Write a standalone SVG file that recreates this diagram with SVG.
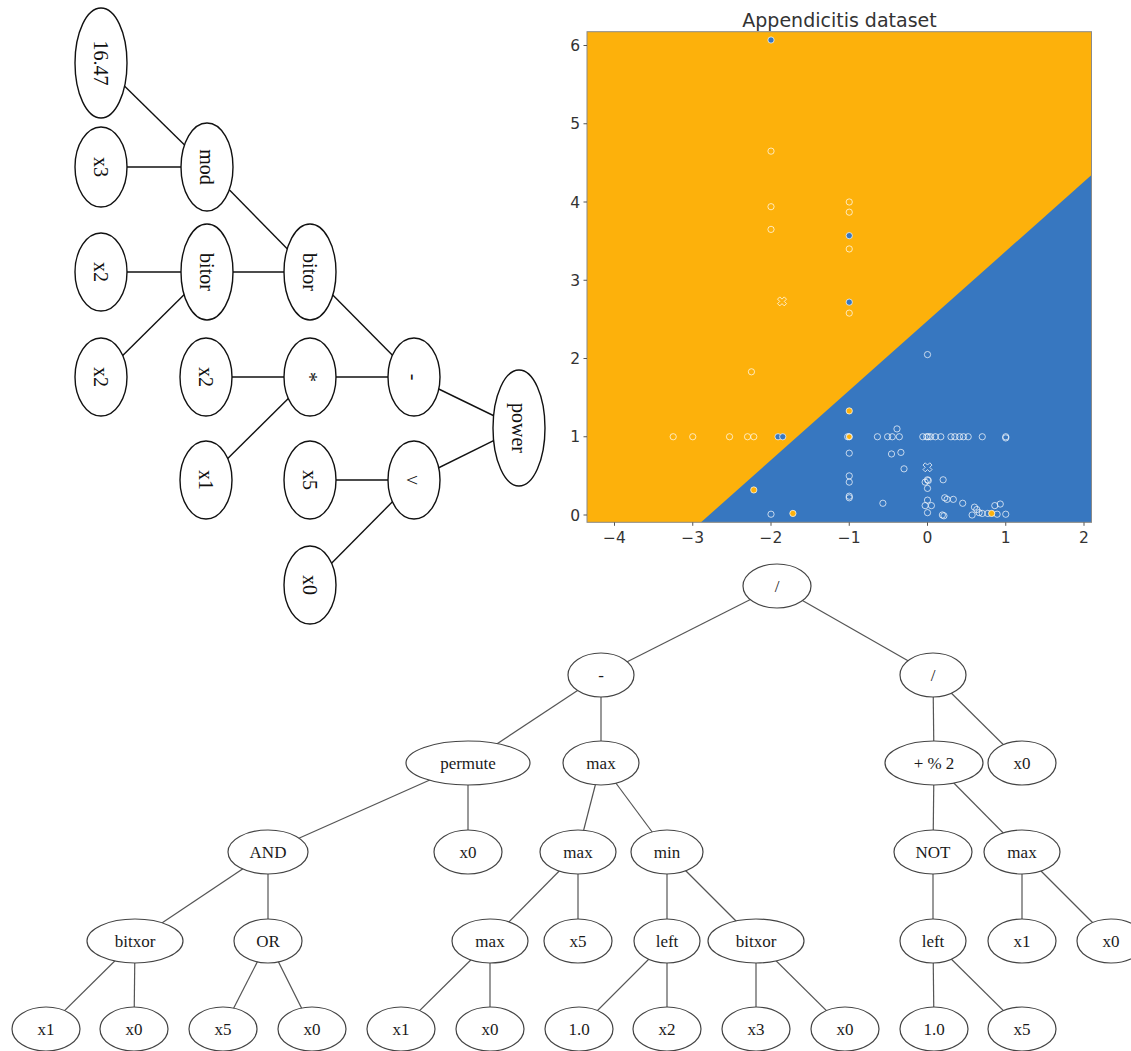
<svg xmlns="http://www.w3.org/2000/svg" width="1131" height="1051" viewBox="0 0 1131 1051">
<defs>
<style>
.tn ellipse{fill:#fff;stroke:#111;stroke-width:1.4}
.tn text{font-family:"Liberation Serif","Times New Roman",serif;font-size:20px;fill:#111;text-anchor:middle}
.bn ellipse{fill:#fff;stroke:#444;stroke-width:1.2}
.bn text{font-family:"Liberation Serif","Times New Roman",serif;font-size:17px;fill:#1a1a1a;text-anchor:middle}
.te line{stroke:#111;stroke-width:1.4}
.be line{stroke:#555;stroke-width:1.2}
.ax text{font-family:"DejaVu Sans",sans-serif;font-size:15.5px;fill:#333}
.ax line{stroke:#555;stroke-width:1}
.hp{fill:none;stroke:#fff;stroke-opacity:.7;stroke-width:1;vector-effect:non-scaling-stroke}
.fb{fill:#3777C0;stroke:#fff;stroke-opacity:.7;stroke-width:1;vector-effect:non-scaling-stroke}
.fo{fill:#FDB10B;stroke:#fff;stroke-opacity:.7;stroke-width:1;vector-effect:non-scaling-stroke}
.xm{fill:none;stroke:#fff;stroke-opacity:.75;stroke-width:1}
</style>
<path id="xmark" d="M-2.25,-4.5 L0,-2.25 L2.25,-4.5 L4.5,-2.25 L2.25,0 L4.5,2.25 L2.25,4.5 L0,2.25 L-2.25,4.5 L-4.5,2.25 L-2.25,0 L-4.5,-2.25 Z"/>
</defs>
<rect width="1131" height="1051" fill="#fff"/>

<!-- Top-left tree connectors -->
<g id="top-tree-edges" class="te">
<line x1="101" y1="63" x2="207" y2="167"/>
<line x1="101" y1="167" x2="207" y2="167"/>
<line x1="207" y1="167" x2="310" y2="272"/>
<line x1="101" y1="272" x2="207" y2="272"/>
<line x1="207" y1="272" x2="310" y2="272"/>
<line x1="207" y1="272" x2="101" y2="377"/>
<line x1="310" y1="272" x2="414" y2="377"/>
<line x1="206" y1="377" x2="310" y2="377"/>
<line x1="310" y1="377" x2="414" y2="377"/>
<line x1="310" y1="377" x2="206" y2="480"/>
<line x1="414" y1="377" x2="519" y2="428"/>
<line x1="414" y1="480" x2="519" y2="428"/>
<line x1="310" y1="480" x2="414" y2="480"/>
<line x1="414" y1="480" x2="310" y2="585"/>
</g>

<!-- Top-left tree nodes -->
<g id="t-1647" class="tn"><ellipse cx="101" cy="63" rx="26" ry="55"/><text transform="translate(101,63) rotate(90)" y="7">16.47</text></g>
<g id="t-x3" class="tn"><ellipse cx="101" cy="167" rx="26" ry="40"/><text transform="translate(101,167) rotate(90)" y="7">x3</text></g>
<g id="t-mod" class="tn"><ellipse cx="207" cy="167" rx="26" ry="44"/><text transform="translate(207,167) rotate(90)" y="7">mod</text></g>
<g id="t-x2a" class="tn"><ellipse cx="101" cy="272" rx="26" ry="39"/><text transform="translate(101,272) rotate(90)" y="7">x2</text></g>
<g id="t-bitor1" class="tn"><ellipse cx="207" cy="272" rx="26" ry="48"/><text transform="translate(207,272) rotate(90)" y="7">bitor</text></g>
<g id="t-bitor2" class="tn"><ellipse cx="310" cy="272" rx="26" ry="48"/><text transform="translate(310,272) rotate(90)" y="7">bitor</text></g>
<g id="t-x2b" class="tn"><ellipse cx="101" cy="377" rx="26" ry="39"/><text transform="translate(101,377) rotate(90)" y="7">x2</text></g>
<g id="t-x2c" class="tn"><ellipse cx="206" cy="377" rx="26" ry="39"/><text transform="translate(206,377) rotate(90)" y="7">x2</text></g>
<g id="t-mul" class="tn"><ellipse cx="310" cy="377" rx="26" ry="39"/><text transform="translate(310,377) rotate(90)" y="7">*</text></g>
<g id="t-sub" class="tn"><ellipse cx="414" cy="377" rx="26" ry="39"/><text transform="translate(414,377) rotate(90)" y="7">-</text></g>
<g id="t-x1" class="tn"><ellipse cx="206" cy="480" rx="26" ry="39"/><text transform="translate(206,480) rotate(90)" y="7">x1</text></g>
<g id="t-x5" class="tn"><ellipse cx="310" cy="480" rx="26" ry="39"/><text transform="translate(310,480) rotate(90)" y="7">x5</text></g>
<g id="t-xor" class="tn"><ellipse cx="414" cy="480" rx="26" ry="39"/><text transform="translate(414,480) rotate(-90)" y="7">^</text></g>
<g id="t-power" class="tn"><ellipse cx="519" cy="428" rx="26" ry="58"/><text transform="translate(519,428) rotate(90)" y="7">power</text></g>
<g id="t-x0" class="tn"><ellipse cx="310" cy="585" rx="26" ry="39"/><text transform="translate(310,585) rotate(90)" y="7">x0</text></g>

<!-- Plot -->
<g id="plot">
<rect x="587" y="31.7" width="504.5" height="490.6" fill="#FDB10B"/>
<polygon points="701,522.3 1091.5,522.3 1091.5,175" fill="#3777C0"/>
<g transform="translate(927.5,515) scale(78.25,-78.25)">
<g id="hollow">
<circle class="hp" cx="-2" cy="4.65" r="0.04"/><circle class="hp" cx="-2" cy="3.94" r="0.04"/><circle class="hp" cx="-2" cy="3.65" r="0.04"/>
<circle class="hp" cx="-1" cy="4.0" r="0.04"/><circle class="hp" cx="-1" cy="3.87" r="0.04"/><circle class="hp" cx="-1" cy="3.4" r="0.04"/>
<circle class="hp" cx="-1" cy="2.58" r="0.04"/><circle class="hp" cx="-2.25" cy="1.83" r="0.04"/><circle class="hp" cx="0" cy="2.05" r="0.04"/>
<circle class="hp" cx="-3.25" cy="1" r="0.04"/><circle class="hp" cx="-3" cy="1" r="0.04"/><circle class="hp" cx="-2.53" cy="1" r="0.04"/>
<circle class="hp" cx="-2.3" cy="1" r="0.04"/><circle class="hp" cx="-2.22" cy="1" r="0.04"/><circle class="hp" cx="-1.02" cy="1" r="0.04"/>
<circle class="hp" cx="-1" cy="1" r="0.04"/><circle class="hp" cx="-0.64" cy="1" r="0.04"/><circle class="hp" cx="-0.51" cy="1" r="0.04"/>
<circle class="hp" cx="-0.45" cy="1" r="0.04"/><circle class="hp" cx="-0.36" cy="1" r="0.04"/><circle class="hp" cx="-0.39" cy="1.1" r="0.04"/>
<circle class="hp" cx="-0.06" cy="1" r="0.04"/><circle class="hp" cx="-0.01" cy="1" r="0.04"/><circle class="hp" cx="0.01" cy="1" r="0.04"/>
<circle class="hp" cx="0.04" cy="1" r="0.04"/><circle class="hp" cx="0.1" cy="1" r="0.04"/><circle class="hp" cx="0.17" cy="1" r="0.04"/>
<circle class="hp" cx="0.3" cy="1" r="0.04"/><circle class="hp" cx="0.35" cy="1" r="0.04"/><circle class="hp" cx="0.41" cy="1" r="0.04"/>
<circle class="hp" cx="0.46" cy="1" r="0.04"/><circle class="hp" cx="0.52" cy="1" r="0.04"/><circle class="hp" cx="0.7" cy="1" r="0.04"/>
<circle class="hp" cx="1" cy="1" r="0.04"/><circle class="hp" cx="1" cy="0.985" r="0.04"/>
<circle class="hp" cx="-1" cy="0.79" r="0.04"/><circle class="hp" cx="-0.46" cy="0.78" r="0.04"/><circle class="hp" cx="-0.34" cy="0.8" r="0.04"/>
<circle class="hp" cx="-0.3" cy="0.59" r="0.04"/><circle class="hp" cx="-1" cy="0.5" r="0.04"/><circle class="hp" cx="-1" cy="0.42" r="0.04"/>
<circle class="hp" cx="0" cy="0.45" r="0.04"/><circle class="hp" cx="-0.03" cy="0.42" r="0.04"/><circle class="hp" cx="0.01" cy="0.44" r="0.04"/>
<circle class="hp" cx="0.2" cy="0.45" r="0.04"/><circle class="hp" cx="0" cy="0.34" r="0.04"/><circle class="hp" cx="-1" cy="0.24" r="0.04"/>
<circle class="hp" cx="-1" cy="0.22" r="0.04"/><circle class="hp" cx="0.22" cy="0.22" r="0.04"/><circle class="hp" cx="0.25" cy="0.2" r="0.04"/>
<circle class="hp" cx="0.33" cy="0.2" r="0.04"/><circle class="hp" cx="-0.57" cy="0.15" r="0.04"/><circle class="hp" cx="0" cy="0.19" r="0.04"/>
<circle class="hp" cx="-0.03" cy="0.12" r="0.04"/><circle class="hp" cx="0.05" cy="0.12" r="0.04"/><circle class="hp" cx="0.45" cy="0.15" r="0.04"/>
<circle class="hp" cx="-2" cy="0.01" r="0.04"/><circle class="hp" cx="0" cy="0.03" r="0.04"/><circle class="hp" cx="0.19" cy="0" r="0.04"/>
<circle class="hp" cx="0.21" cy="-0.01" r="0.04"/><circle class="hp" cx="0.57" cy="0" r="0.04"/><circle class="hp" cx="0.6" cy="0.1" r="0.04"/>
<circle class="hp" cx="0.63" cy="0.07" r="0.04"/><circle class="hp" cx="0.66" cy="0.03" r="0.04"/><circle class="hp" cx="0.7" cy="0.02" r="0.04"/>
<circle class="hp" cx="0.77" cy="0.02" r="0.04"/><circle class="hp" cx="0.86" cy="0.12" r="0.04"/><circle class="hp" cx="0.93" cy="0.14" r="0.04"/>
<circle class="hp" cx="0.89" cy="0.01" r="0.04"/><circle class="hp" cx="1" cy="0.01" r="0.04"/>
</g>
<g id="filled">
<circle class="fb" cx="-2" cy="6.07" r="0.04"/><circle class="fb" cx="-1" cy="3.57" r="0.04"/><circle class="fb" cx="-1" cy="2.72" r="0.04"/>
<circle class="fb" cx="-1.91" cy="1" r="0.04"/><circle class="fb" cx="-1.85" cy="1" r="0.04"/>
<circle class="fo" cx="-1" cy="1.33" r="0.04"/><circle class="fo" cx="-2.22" cy="0.32" r="0.04"/><circle class="fo" cx="-1.72" cy="0.02" r="0.04"/>
<circle class="fo" cx="0.82" cy="0.02" r="0.04"/><circle class="fo" cx="-1" cy="1" r="0.035"/>
</g>
</g>
<use href="#xmark" class="xm" x="782" y="301.4"/>
<use href="#xmark" class="xm" x="927.5" y="467.3"/>
<rect x="587" y="31.7" width="504.5" height="490.6" fill="none" stroke="#8a8a8a" stroke-width="1"/>
<g class="ax">
<line x1="583.5" y1="515" x2="587" y2="515"/><line x1="583.5" y1="436.75" x2="587" y2="436.75"/>
<line x1="583.5" y1="358.5" x2="587" y2="358.5"/><line x1="583.5" y1="280.25" x2="587" y2="280.25"/>
<line x1="583.5" y1="202" x2="587" y2="202"/><line x1="583.5" y1="123.75" x2="587" y2="123.75"/>
<line x1="583.5" y1="45.5" x2="587" y2="45.5"/>
<text x="580" y="520.6" text-anchor="end">0</text><text x="580" y="442.35" text-anchor="end">1</text>
<text x="580" y="364.1" text-anchor="end">2</text><text x="580" y="285.85" text-anchor="end">3</text>
<text x="580" y="207.6" text-anchor="end">4</text><text x="580" y="129.35" text-anchor="end">5</text>
<text x="580" y="51.1" text-anchor="end">6</text>
<line x1="614.5" y1="522.3" x2="614.5" y2="525.8"/><line x1="692.75" y1="522.3" x2="692.75" y2="525.8"/>
<line x1="771" y1="522.3" x2="771" y2="525.8"/><line x1="849.25" y1="522.3" x2="849.25" y2="525.8"/>
<line x1="927.5" y1="522.3" x2="927.5" y2="525.8"/><line x1="1005.75" y1="522.3" x2="1005.75" y2="525.8"/>
<line x1="1084" y1="522.3" x2="1084" y2="525.8"/>
<text x="614.5" y="543.3" text-anchor="middle">−4</text><text x="692.75" y="543.3" text-anchor="middle">−3</text>
<text x="771" y="543.3" text-anchor="middle">−2</text><text x="849.25" y="543.3" text-anchor="middle">−1</text>
<text x="927.5" y="543.3" text-anchor="middle">0</text><text x="1005.75" y="543.3" text-anchor="middle">1</text>
<text x="1084" y="543.3" text-anchor="middle">2</text>
<text x="839.5" y="26.7" text-anchor="middle" style="font-size:19px">Appendicitis dataset</text>
</g>
</g>

<!-- Bottom tree connectors -->
<g id="bottom-tree-edges" class="be">
<line x1="777" y1="586" x2="601" y2="675"/>
<line x1="777" y1="586" x2="933" y2="675"/>
<line x1="601" y1="675" x2="468" y2="763"/>
<line x1="601" y1="675" x2="601" y2="763"/>
<line x1="468" y1="763" x2="268" y2="852"/>
<line x1="468" y1="763" x2="468" y2="852"/>
<line x1="601" y1="763" x2="578" y2="852"/>
<line x1="601" y1="763" x2="667" y2="852"/>
<line x1="268" y1="852" x2="135" y2="941"/>
<line x1="268" y1="852" x2="268" y2="941"/>
<line x1="578" y1="852" x2="490" y2="941"/>
<line x1="578" y1="852" x2="578" y2="941"/>
<line x1="667" y1="852" x2="667" y2="941"/>
<line x1="667" y1="852" x2="756" y2="941"/>
<line x1="135" y1="941" x2="46" y2="1029"/>
<line x1="135" y1="941" x2="134" y2="1029"/>
<line x1="268" y1="941" x2="223" y2="1029"/>
<line x1="268" y1="941" x2="312" y2="1029"/>
<line x1="490" y1="941" x2="401" y2="1029"/>
<line x1="490" y1="941" x2="490" y2="1029"/>
<line x1="667" y1="941" x2="579" y2="1029"/>
<line x1="667" y1="941" x2="667" y2="1029"/>
<line x1="756" y1="941" x2="756" y2="1029"/>
<line x1="756" y1="941" x2="845" y2="1029"/>
<line x1="933" y1="675" x2="934" y2="763"/>
<line x1="933" y1="675" x2="1022" y2="763"/>
<line x1="934" y1="763" x2="933" y2="852"/>
<line x1="934" y1="763" x2="1022" y2="852"/>
<line x1="933" y1="852" x2="933" y2="941"/>
<line x1="1022" y1="852" x2="1022" y2="941"/>
<line x1="1022" y1="852" x2="1111" y2="941"/>
<line x1="933" y1="941" x2="934" y2="1029"/>
<line x1="933" y1="941" x2="1022" y2="1029"/>
</g>

<!-- Bottom tree nodes -->
<g id="b-root" class="bn"><ellipse cx="777" cy="586" rx="34" ry="22"/><text x="777" y="592">/</text></g>
<g id="b-sub" class="bn"><ellipse cx="601" cy="675" rx="33" ry="22"/><text x="601" y="681">-</text></g>
<g id="b-div" class="bn"><ellipse cx="933" cy="675" rx="33" ry="22"/><text x="933" y="681">/</text></g>
<g id="b-permute" class="bn"><ellipse cx="468" cy="763" rx="62" ry="22"/><text x="468" y="769">permute</text></g>
<g id="b-max1" class="bn"><ellipse cx="601" cy="763" rx="38" ry="22"/><text x="601" y="769">max</text></g>
<g id="b-addmod" class="bn"><ellipse cx="934" cy="763" rx="49" ry="22"/><text x="934" y="769">+ % 2</text></g>
<g id="b-x0-l2" class="bn"><ellipse cx="1022" cy="763" rx="34" ry="22"/><text x="1022" y="769">x0</text></g>
<g id="b-and" class="bn"><ellipse cx="268" cy="852" rx="40" ry="22"/><text x="268" y="858">AND</text></g>
<g id="b-x0-l3" class="bn"><ellipse cx="468" cy="852" rx="34" ry="22"/><text x="468" y="858">x0</text></g>
<g id="b-max2" class="bn"><ellipse cx="578" cy="852" rx="38" ry="22"/><text x="578" y="858">max</text></g>
<g id="b-min" class="bn"><ellipse cx="667" cy="852" rx="36" ry="22"/><text x="667" y="858">min</text></g>
<g id="b-not" class="bn"><ellipse cx="933" cy="852" rx="39" ry="22"/><text x="933" y="858">NOT</text></g>
<g id="b-max4" class="bn"><ellipse cx="1022" cy="852" rx="38" ry="22"/><text x="1022" y="858">max</text></g>
<g id="b-bitxor1" class="bn"><ellipse cx="135" cy="941" rx="48" ry="22"/><text x="135" y="947">bitxor</text></g>
<g id="b-or" class="bn"><ellipse cx="268" cy="941" rx="34" ry="22"/><text x="268" y="947">OR</text></g>
<g id="b-max3" class="bn"><ellipse cx="490" cy="941" rx="38" ry="22"/><text x="490" y="947">max</text></g>
<g id="b-x5-l4" class="bn"><ellipse cx="578" cy="941" rx="34" ry="22"/><text x="578" y="947">x5</text></g>
<g id="b-left1" class="bn"><ellipse cx="667" cy="941" rx="33" ry="22"/><text x="667" y="947">left</text></g>
<g id="b-bitxor2" class="bn"><ellipse cx="756" cy="941" rx="48" ry="22"/><text x="756" y="947">bitxor</text></g>
<g id="b-left2" class="bn"><ellipse cx="933" cy="941" rx="33" ry="22"/><text x="933" y="947">left</text></g>
<g id="b-x1-l4" class="bn"><ellipse cx="1022" cy="941" rx="34" ry="22"/><text x="1022" y="947">x1</text></g>
<g id="b-x0-l4" class="bn"><ellipse cx="1111" cy="941" rx="34" ry="22"/><text x="1111" y="947">x0</text></g>
<g id="b-l5-1" class="bn"><ellipse cx="46" cy="1029" rx="34" ry="22"/><text x="46" y="1035">x1</text></g>
<g id="b-l5-2" class="bn"><ellipse cx="134" cy="1029" rx="34" ry="22"/><text x="134" y="1035">x0</text></g>
<g id="b-l5-3" class="bn"><ellipse cx="223" cy="1029" rx="34" ry="22"/><text x="223" y="1035">x5</text></g>
<g id="b-l5-4" class="bn"><ellipse cx="312" cy="1029" rx="34" ry="22"/><text x="312" y="1035">x0</text></g>
<g id="b-l5-5" class="bn"><ellipse cx="401" cy="1029" rx="34" ry="22"/><text x="401" y="1035">x1</text></g>
<g id="b-l5-6" class="bn"><ellipse cx="490" cy="1029" rx="34" ry="22"/><text x="490" y="1035">x0</text></g>
<g id="b-l5-7" class="bn"><ellipse cx="579" cy="1029" rx="34" ry="22"/><text x="579" y="1035">1.0</text></g>
<g id="b-l5-8" class="bn"><ellipse cx="667" cy="1029" rx="34" ry="22"/><text x="667" y="1035">x2</text></g>
<g id="b-l5-9" class="bn"><ellipse cx="756" cy="1029" rx="34" ry="22"/><text x="756" y="1035">x3</text></g>
<g id="b-l5-10" class="bn"><ellipse cx="845" cy="1029" rx="34" ry="22"/><text x="845" y="1035">x0</text></g>
<g id="b-l5-11" class="bn"><ellipse cx="934" cy="1029" rx="34" ry="22"/><text x="934" y="1035">1.0</text></g>
<g id="b-l5-12" class="bn"><ellipse cx="1022" cy="1029" rx="34" ry="22"/><text x="1022" y="1035">x5</text></g>
</svg>
